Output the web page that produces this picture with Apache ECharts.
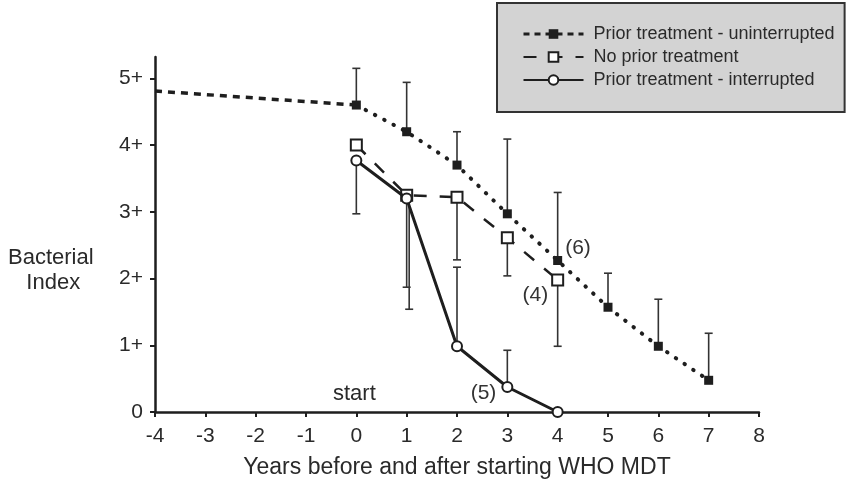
<!DOCTYPE html>
<html>
<head>
<meta charset="utf-8">
<script src="https://cdn.jsdelivr.net/npm/echarts@6/dist/echarts.min.js"></script>
<style>
	html, body { margin: 0; padding: 0; background: #fff; }
	#chart { width: 846px; height: 486px; }
</style>
</head>
<body>
<div id="chart"></div>
<script>
// values
var yearTicks = [-4, -3, -2, -1, 0, 1, 2, 3, 4, 5, 6, 7, 8];
var indexTicks = [0, 1, 2, 3, 4, 5];

// prior treatment - uninterrupted
var yearsA = [0, 1, 2, 3, 4, 5, 6, 7];
var valuesA = [4.6, 4.2, 3.7, 2.97, 2.27, 1.57, 0.985, 0.475];
var barEndA = [5.15, 4.94, 4.2, 4.09, 3.29, 2.08, 1.69, 1.18];
var preYearsA = [-4, 0];
var preValuesA = [4.81, 4.6];

// no prior treatment
var yearsB = [0, 1, 2, 3, 4];
var valuesB = [4.0, 3.25, 3.22, 2.61, 1.98];
var barEndB = [null, 1.87, 2.28, 2.04, 0.985];

// prior treatment - interrupted
var yearsC = [0, 1, 2, 3, 4];
var valuesC = [3.77, 3.2, 0.985, 0.375, 0];
var barYearsC = [0, 1.05, 2, 3, 4];
var barEndC = [2.97, 1.54, 2.17, 0.925, null];

var names = ['Prior treatment - uninterrupted', 'No prior treatment', 'Prior treatment - interrupted'];

var FONT = 'Liberation Sans, Arial, Helvetica, sans-serif';
var INK = '#1e1e1e';

function pts(xs, ys) {
	var out = [];
	for (var i = 0; i < xs.length; i++) out.push([xs[i], ys[i]]);
	return out;
}

function bars(xs, from, to) {
	var out = [];
	for (var i = 0; i < xs.length; i++) {
		if (to[i] != null) out.push([xs[i], from[i], to[i]]);
	}
	return out;
}

function note(data, i, text, pos, offset) {
	data[i] = {
		value: data[i],
		label: {
			show: true, formatter: text, position: pos, distance: 3, offset: offset,
			fontFamily: FONT, fontSize: 21, color: '#333'
		}
	};
	return data;
}

function renderBar(params, api) {
	var x = api.value(0);
	var p1 = api.coord([x, api.value(1)]);
	var p2 = api.coord([x, api.value(2)]);
	var st = { stroke: '#333', lineWidth: 1.6 };
	return {
		type: 'group',
		children: [
			{ type: 'line', shape: { x1: p1[0], y1: p1[1], x2: p2[0], y2: p2[1] }, style: st },
			{ type: 'line', shape: { x1: p2[0] - 4, y1: p2[1], x2: p2[0] + 4, y2: p2[1] }, style: st }
		]
	};
}

var dataA = note(pts(yearsA, valuesA), 4, '(6)', 'right', [0, -12]);
var dataB = note(pts(yearsB, valuesB), 4, '(4)', 'left', [0, 15]);
var dataC = note(pts(yearsC, valuesC), 3, '(5)', 'left', [-2, 6]);

var allBars = bars(yearsA, valuesA, barEndA)
	.concat(bars(yearsB, valuesB, barEndB))
	.concat(bars(barYearsC, valuesC, barEndC));

var myChart = echarts.init(document.getElementById('chart'));
var option = {
	backgroundColor: '#fff',
	animation: false,
	textStyle: { fontFamily: FONT },
	grid: { left: 155, right: 87, top: 57, bottom: 74 },
	legend: {
		orient: 'vertical',
		left: 497,
		top: 3,
		padding: [22, 10, 23, 25],
		itemWidth: 60,
		itemHeight: 12,
		itemGap: 5,
		backgroundColor: '#d3d3d3',
		borderColor: '#333',
		borderWidth: 2,
		borderRadius: 0,
		textStyle: { fontFamily: FONT, fontSize: 18, color: '#2a2a2a', lineHeight: 18, padding: [0, 0, 0, 5] },
		data: [
			{ name: names[0], lineStyle: { type: [6, 5], width: 3, cap: 'butt' } },
			names[1],
			names[2]
		]
	},
	xAxis: {
		type: 'value',
		min: -4,
		max: 8,
		interval: 1,
		name: 'Years before and after starting WHO MDT',
		nameLocation: 'middle',
		nameGap: 44,
		nameTextStyle: { fontFamily: FONT, fontSize: 23, color: '#2a2a2a' },
		splitLine: { show: false },
		axisLine: { onZero: false, lineStyle: { color: INK, width: 2.5 } },
		axisTick: { length: 5, lineStyle: { color: INK, width: 2 } },
		axisLabel: {
			margin: 14, fontFamily: FONT, fontSize: 21, color: '#2a2a2a',
			customValues: yearTicks
		}
	},
	yAxis: {
		type: 'value',
		min: 0,
		max: 5.32,
		splitLine: { show: false },
		axisLine: { show: true, onZero: false, lineStyle: { color: INK, width: 2.5 } },
		axisTick: { show: true, length: 5, lineStyle: { color: INK, width: 2 }, customValues: indexTicks },
		axisLabel: {
			margin: 12, fontFamily: FONT, fontSize: 21, color: '#2a2a2a',
			customValues: indexTicks,
			formatter: function(v) { return v === 0 ? '0' : v + '+'; }
		}
	},
	graphic: [
		{
			type: 'text', left: 333, top: 383,
			style: { text: 'start', font: '22px ' + FONT, fill: '#2a2a2a' }
		},
		{
			type: 'text', left: 8, top: 245,
			style: { text: 'Bacterial\n   Index', font: '22px ' + FONT, fill: '#2a2a2a', lineHeight: 25 }
		}
	],
	series: [
		{
			name: 'errbars',
			type: 'custom',
			z: 1,
			renderItem: renderBar,
			encode: { x: 0, y: [1, 2] },
			data: allBars
		},
		{
			name: 'before',
			type: 'line',
			z: 2,
			symbol: 'none',
			data: pts(preYearsA, preValuesA),
			lineStyle: { color: INK, width: 3.5, type: [7, 6] }
		},
		{
			name: names[0],
			type: 'line',
			z: 3,
			symbol: 'rect',
			symbolSize: 9,
			data: dataA,
			itemStyle: { color: INK },
			lineStyle: { color: INK, width: 4, type: [0.5, 10], cap: 'round' }
		},
		{
			name: names[1],
			type: 'line',
			z: 4,
			symbol: 'rect',
			symbolSize: 11,
			data: dataB,
			itemStyle: { color: '#fff', borderColor: INK, borderWidth: 2 },
			lineStyle: { color: INK, width: 2.5, type: [13, 13] }
		},
		{
			name: names[2],
			type: 'line',
			z: 5,
			symbol: 'circle',
			symbolSize: 10,
			data: dataC,
			itemStyle: { color: '#fff', borderColor: INK, borderWidth: 2 },
			lineStyle: { color: INK, width: 3 }
		}
	]
};
myChart.setOption(option);
</script>
</body>
</html>
